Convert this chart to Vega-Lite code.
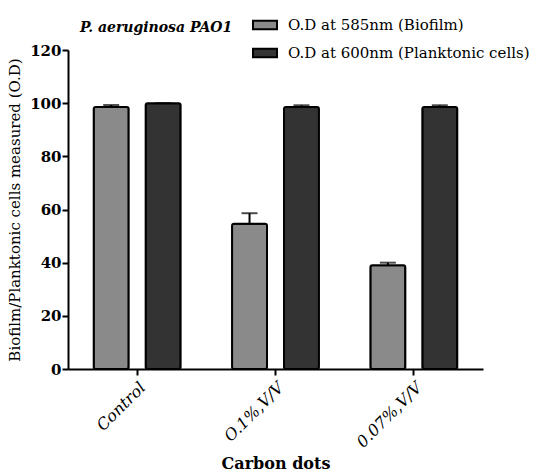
{
  "$schema": "https://vega.github.io/schema/vega-lite/v6.json",
  "autosize": "none",
  "width": 415,
  "height": 319,
  "padding": {"left": 68, "top": 50, "right": 61, "bottom": 105},
  "background": "white",
  "title": {
    "text": "P. aeruginosa PAO1",
    "anchor": "start",
    "frame": "group",
    "dx": 12,
    "dy": 23,
    "offset": 0,
    "font": "DejaVu Serif",
    "fontSize": 14,
    "fontStyle": "italic",
    "fontWeight": "bold",
    "color": "black"
  },
  "config": {
    "view": {"stroke": null},
    "font": "DejaVu Serif"
  },
  "data": {
    "values": [
      {"group": "Control", "series": "O.D at 585nm (Biofilm)", "value": 98.6, "upper": 99.3},
      {"group": "Control", "series": "O.D at 600nm (Planktonic cells)", "value": 100, "upper": 100},
      {"group": "O.1%,V/V", "series": "O.D at 585nm (Biofilm)", "value": 54.6, "upper": 58.6},
      {"group": "O.1%,V/V", "series": "O.D at 600nm (Planktonic cells)", "value": 98.6, "upper": 99.2},
      {"group": "0.07%,V/V", "series": "O.D at 585nm (Biofilm)", "value": 39.0, "upper": 40.0},
      {"group": "0.07%,V/V", "series": "O.D at 600nm (Planktonic cells)", "value": 98.6, "upper": 99.2}
    ]
  },
  "encoding": {
    "x": {
      "field": "group",
      "type": "nominal",
      "sort": ["Control", "O.1%,V/V", "0.07%,V/V"],
      "scale": {"paddingInner": 0, "paddingOuter": 0},
      "axis": {
        "title": "Carbon dots",
        "titleFont": "DejaVu Serif",
        "titleFontSize": 16,
        "titleFontWeight": "bold",
        "titleColor": "black",
        "titlePadding": 5,
        "labelAngle": -45,
        "labelAlign": "right",
        "labelBaseline": "top",
        "labelFont": "DejaVu Serif",
        "labelFontSize": 16,
        "labelFontStyle": "italic",
        "labelColor": "black",
        "labelPadding": 4,
        "domainColor": "black",
        "domainWidth": 2,
        "tickColor": "black",
        "tickWidth": 2,
        "tickSize": 6
      }
    },
    "xOffset": {
      "field": "series",
      "type": "nominal",
      "scale": {"paddingInner": 0.327, "paddingOuter": 0.495}
    }
  },
  "layer": [
    {
      "mark": {"type": "bar", "stroke": "black", "strokeWidth": 2, "cornerRadius": 2},
      "encoding": {
        "y": {
          "field": "value",
          "type": "quantitative",
          "scale": {"domain": [0, 120]},
          "axis": {
            "title": "Biofilm/Planktonic cells measured (O.D)",
            "titleFont": "DejaVu Serif",
            "titleFontSize": 15,
            "titleFontWeight": "normal",
            "titleColor": "black",
            "titlePadding": 7,
            "values": [0, 20, 40, 60, 80, 100, 120],
            "grid": false,
            "labelFont": "DejaVu Serif",
            "labelFontSize": 15,
            "labelFontWeight": "bold",
            "labelColor": "black",
            "labelPadding": 1,
            "domainColor": "black",
            "domainWidth": 2,
            "tickColor": "black",
            "tickWidth": 2,
            "tickSize": 6
          }
        },
        "fill": {
          "field": "series",
          "type": "nominal",
          "scale": {"range": ["#8a8a8a", "#333333"]},
          "legend": {
            "title": null,
            "orient": "none",
            "legendX": 184,
            "legendY": -38,
            "symbolType": "M-1,-0.35H1V0.35H-1Z",
            "symbolSize": 576,
            "symbolStrokeColor": "black",
            "symbolStrokeWidth": 2,
            "symbolOpacity": 1,
            "labelFont": "DejaVu Serif",
            "labelFontSize": 15,
            "labelColor": "black",
            "labelOffset": 10,
            "labelLimit": 300,
            "rowPadding": 6
          }
        }
      }
    },
    {
      "mark": {"type": "rule", "color": "black", "strokeWidth": 2},
      "encoding": {
        "y": {"field": "value", "type": "quantitative"},
        "y2": {"field": "upper"}
      }
    },
    {
      "mark": {"type": "tick", "color": "black", "thickness": 2, "size": 16, "orient": "horizontal"},
      "encoding": {
        "y": {"field": "upper", "type": "quantitative"}
      }
    }
  ]
}
